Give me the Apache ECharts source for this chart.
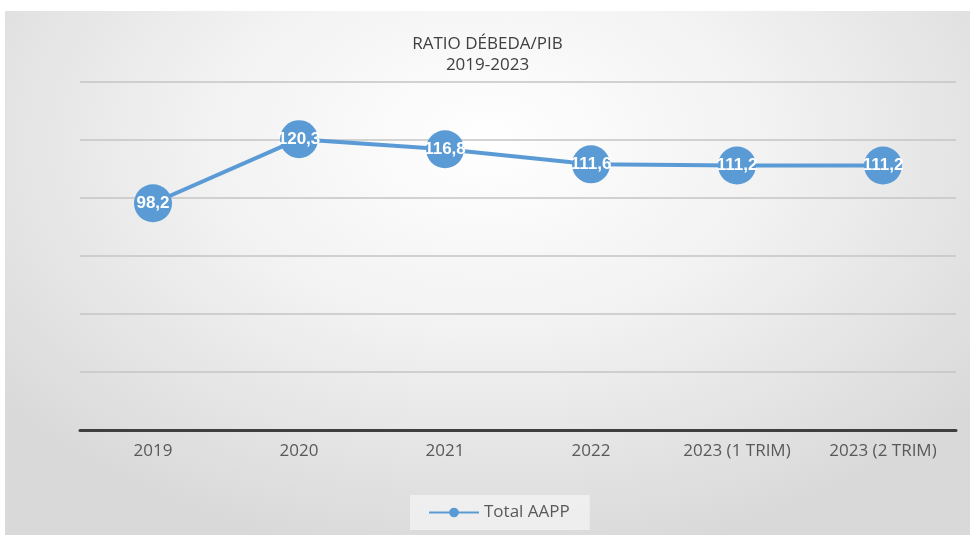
<!DOCTYPE html>
<html>
<head>
<meta charset="utf-8">
<script src="https://cdn.jsdelivr.net/npm/echarts@6/dist/echarts.min.js"></script>
<style>
	html, body { margin: 0; padding: 0; background: #fff; }
	#chart {
		position: absolute;
		left: 5px;
		top: 11px;
		width: 965px;
		height: 524px;
		background: radial-gradient(ellipse 65% 80% at 50% 25%, #ffffff 0%, #f2f2f2 45%, #d9d9d9 100%);
	}
</style>
</head>
<body>
<div id="chart"></div>
<script>
// datos del gráfico
const categories = ["2019", "2020", "2021", "2022", "2023 (1 TRIM)", "2023 (2 TRIM)"];
const totalAAPP = [98.2, 120.3, 116.8, 111.6, 111.2, 111.2];
const seriesName = "Total AAPP";
const titleLines = ["RATIO DÉBEDA/PIB", "2019-2023"];

const chart = echarts.init(document.getElementById("chart"), null, { renderer: "canvas" });
const blue = "#5B9BD5";

const option = {
	backgroundColor: "transparent",
	animation: false,
	title: {
		text: titleLines.join("\n"),
		left: "center",
		top: 18,
		textStyle: {
			fontFamily: "Open Sans",
			fontSize: 17,
			fontWeight: "normal",
			color: "#404040",
			lineHeight: 21,
		},
	},
	grid: {
		left: 75,
		right: 14,
		top: 71,
		bottom: 105,
	},
	legend: {
		bottom: 5,
		left: 405,
		itemWidth: 50,
		itemHeight: 12,
		itemGap: 5,
		padding: [9, 20, 9, 18],
		backgroundColor: "rgba(245,245,245,0.7)",
		textStyle: { fontFamily: "Open Sans", fontSize: 17, color: "#595959" },
		data: [seriesName],
	},
	xAxis: {
		type: "category",
		data: categories,
		axisLine: { lineStyle: { color: "#3f3f3f", width: 3 } },
		axisTick: { show: false },
		axisLabel: {
			margin: 13,
			fontFamily: "Open Sans",
			fontSize: 17,
			color: "#595959",
		},
	},
	yAxis: {
		type: "value",
		min: 20,
		max: 140,
		interval: 20,
		axisLine: { show: false },
		axisTick: { show: false },
		axisLabel: { show: false },
		splitLine: { lineStyle: { color: "#c4c4c4", width: 1.5 } },
	},
	series: [
		{
			name: seriesName,
			type: "line",
			data: totalAAPP,
			symbol: "circle",
			symbolSize: 38,
			itemStyle: { color: blue },
			lineStyle: { color: blue, width: 4 },
			label: {
				show: true,
				position: "inside",
				formatter: (p) => p.value.toFixed(1).replace(".", ","),
				color: "#fff",
				fontWeight: "bold",
				fontFamily: "Liberation Sans",
				fontSize: 17,
			},
			emphasis: { disabled: true },
		},
	],
};
chart.setOption(option);
</script>
</body>
</html>
